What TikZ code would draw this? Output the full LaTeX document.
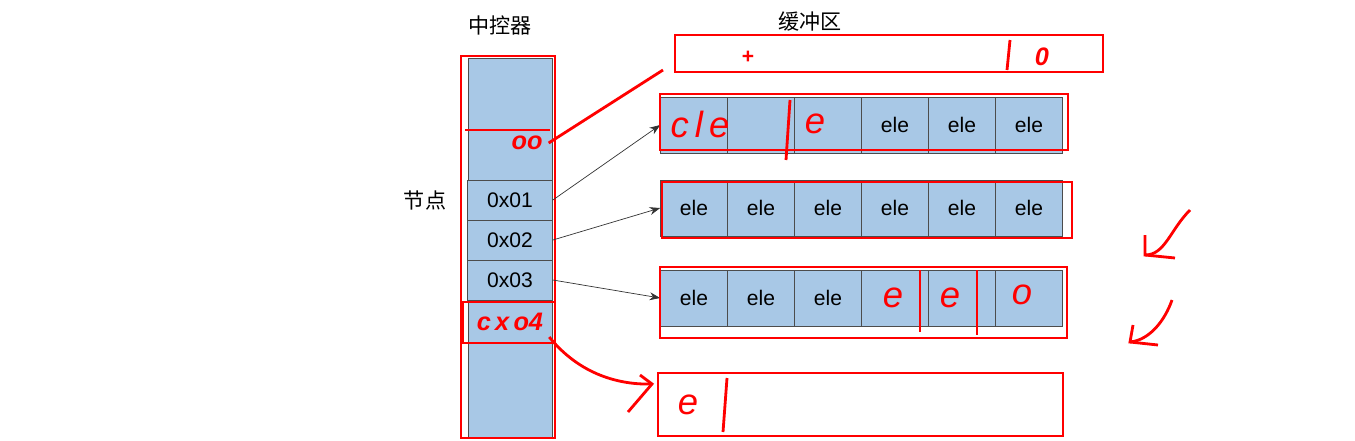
\documentclass[tikz,border=0pt]{standalone}
\usepackage{fontspec}
\setmainfont{Liberation Sans}
\newfontfamily\cjk{Noto Sans CJK SC}
\usetikzlibrary{arrows.meta, positioning}
\definecolor{cellblue}{RGB}{168,200,230}
\begin{document}
\begin{tikzpicture}[x=0.02cm, y=-0.02cm,
        cell/.style={draw=black!70, fill=cellblue, minimum width=1.34cm, minimum height=1.12cm, inner sep=0pt, font=\large},
        slot/.style={draw=black!70, fill=cellblue, minimum width=1.7cm, minimum height=0.8cm, inner sep=0pt, font=\large},
        pen/.style={red, line width=1.6pt},
        ink/.style={red, font=\Large\itshape\bfseries}
    ]
        \useasboundingbox (0,0) rectangle (1355,440);
        % Titles
        \node[font=\cjk\large] (ctlT) at (500,25) {中控器};
        \node[font=\cjk\large] (bufT) at (810,22) {缓冲区};
        \node[font=\cjk\large] (nodeT) at (425,200) {节点};

        % Controller column
        \draw[black!70, fill=cellblue] (468,58) rectangle (552,438);
        \node[slot] (s1) at (510,200) {0x01};
        \node[slot] (s2) at (510,240) {0x02};
        \node[slot] (s3) at (510,280) {0x03};
        \draw[black!70] (468,300) -- (552,300);
        \draw[pen] (461,56) rectangle (555,438);
        \draw[pen] (465,130) -- (550,130);
        \node[ink] (oo) at (527,143) {oo};
        \draw[pen] (463,302) rectangle (555,343);
        \node[ink] (c4) at (510,322) {c\,x\,o4};

        % Buffer rows
        \foreach \r/\y in {1/125, 2/208, 3/298} {
            \foreach \c in {1,...,6} {
                \node[cell] (b\r\c) at (660+67*\c-33, \y) {};
            }
        }
        \foreach \c in {4,5,6} \node[font=\large] at (b1\c) {ele};
        \foreach \c in {1,...,6} \node[font=\large] at (b2\c) {ele};
        \foreach \c in {1,2,3} \node[font=\large] at (b3\c) {ele};

        % Pointers
        \draw[-{Stealth[length=6pt]}, black!80] (s1.east) -- (b11.west);
        \draw[-{Stealth[length=6pt]}, black!80] (s2.east) -- (b21.west);
        \draw[-{Stealth[length=6pt]}, black!80] (s3.east) -- (b31.west);

        % Red annotations
        \draw[pen] (675,35) rectangle (1103,72);
        \node[red, font=\large\bfseries] (plus) at (748,57) {+};
        \draw[pen] (1010,40) -- (1007,70);
        \node[ink] (zero) at (1042,57) {0};
        \draw[pen] (oo.east) -- (663,70);
        \draw[pen] (660,94) rectangle (1068,150);
        \node[ink, font=\huge\itshape] (r1) at (700,124) {c\,l\,e};
        \node[ink, font=\huge\itshape] (r2) at (815,124) {e};
        \draw[pen] (790,100) -- (786,160);
        \draw[pen] (662,182) rectangle (1072,238);
        \draw[pen] (660,267) rectangle (1067,338);
        \node[ink, font=\huge\itshape] (e4) at (893,298) {e};
        \node[ink, font=\huge\itshape] (e5) at (950,298) {e};
        \node[ink, font=\huge\itshape] (e6) at (1022,295) {o};
        \draw[pen] (920,270) -- (920,332);
        \draw[pen] (977,270) -- (977,335);
        \draw[pen] (658,373) rectangle (1063,436);
        \node[ink, font=\huge\itshape] (e7) at (688,405) {e};
        \draw[pen] (727,378) -- (723,432);
        \draw[pen] (c4.south east) .. controls (580,375) and (620,385) .. (652,384);
        \draw[pen] (640,375) -- (652,384) -- (628,412);
        \draw[pen] (1190,210) .. controls (1170,230) and (1165,255) .. (1145,255);
        \draw[pen] (1145,235) -- (1145,255) -- (1175,258);
        \draw[pen] (1172,300) .. controls (1165,320) and (1150,340) .. (1130,342);
        \draw[pen] (1133,325) -- (1130,342) -- (1158,345);
    \end{tikzpicture}
\end{document}
